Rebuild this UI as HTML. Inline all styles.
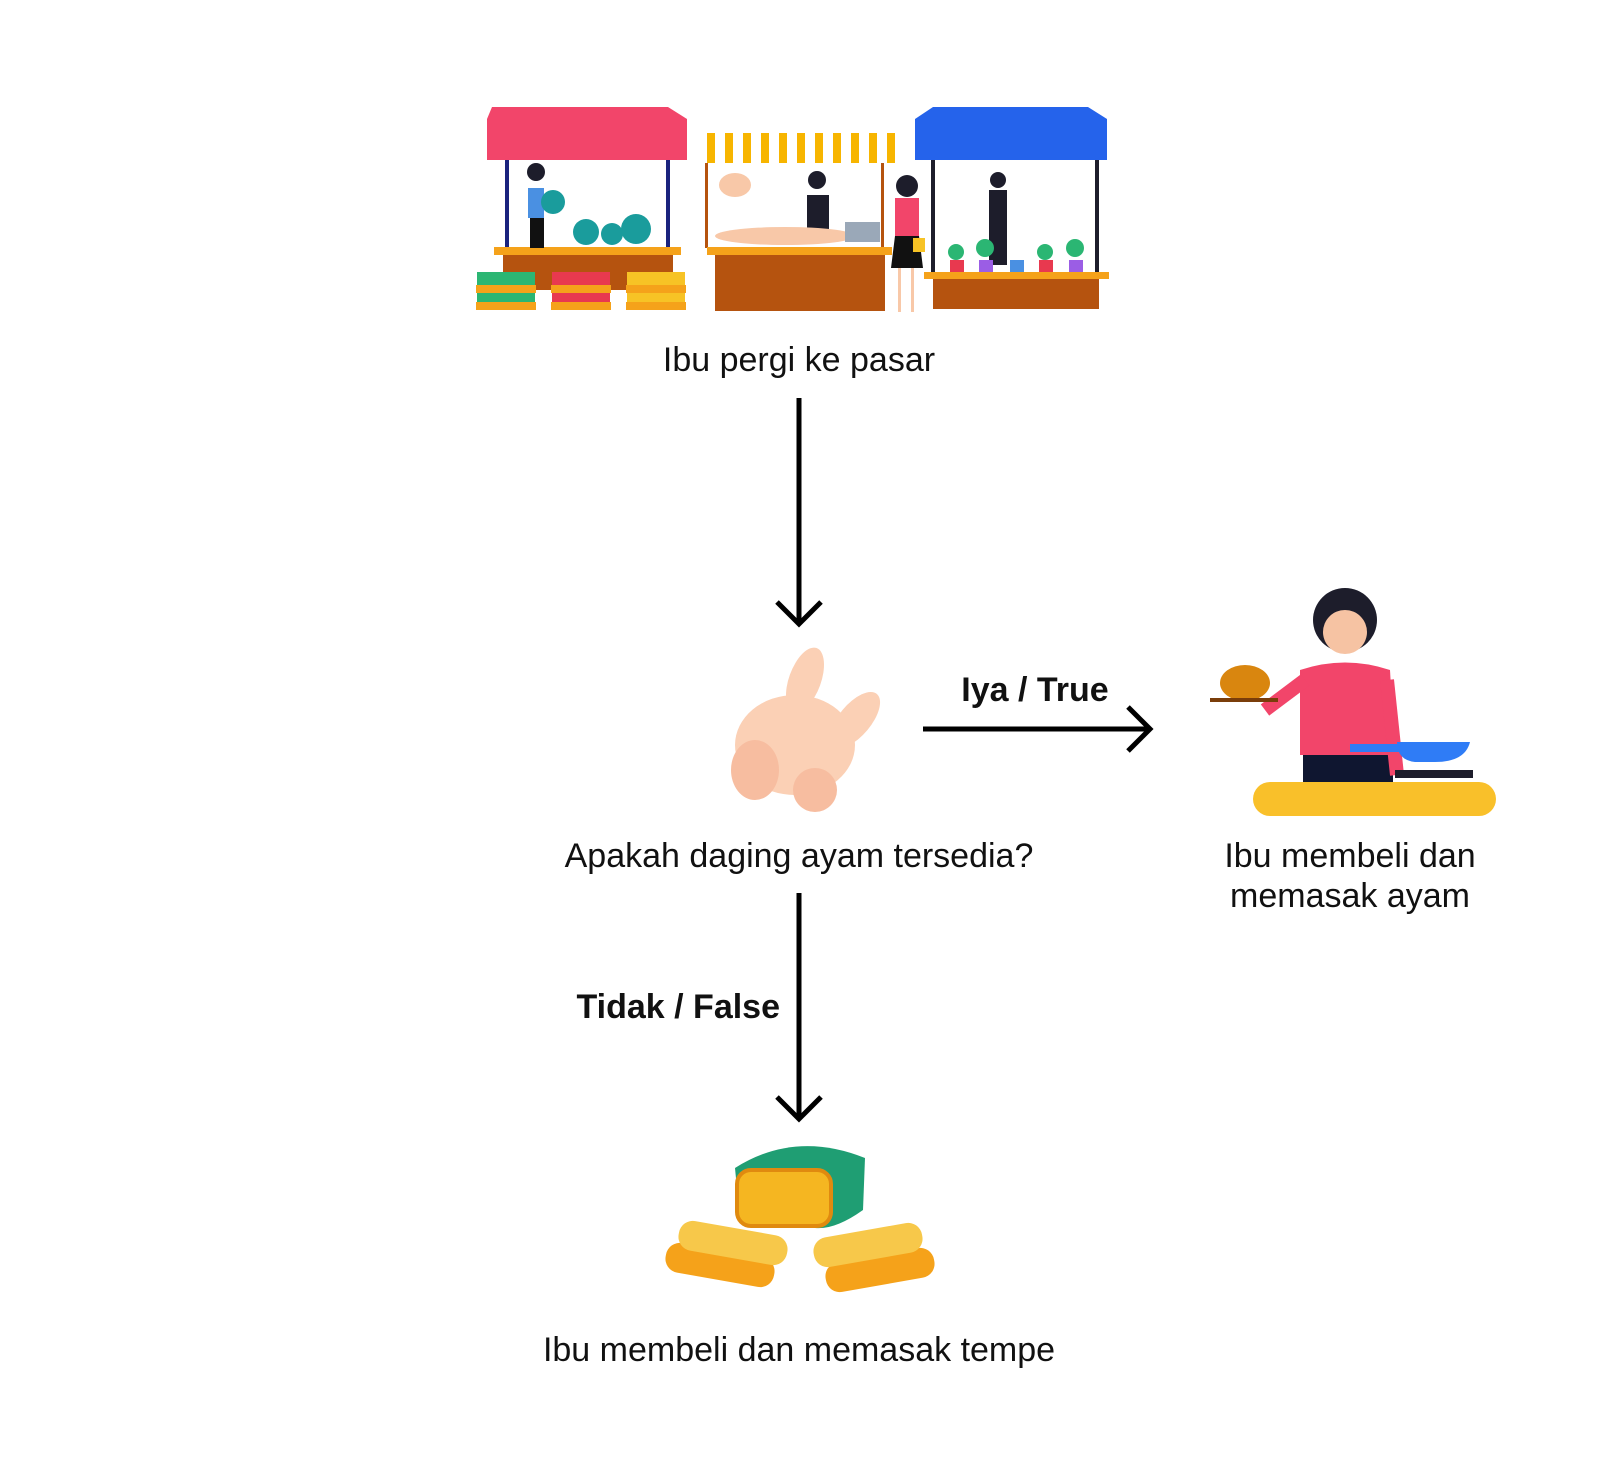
<!DOCTYPE html>
<html><head><meta charset="utf-8"><style>
html,body{margin:0;padding:0;background:#fff;}
#c{position:relative;width:1600px;height:1461px;overflow:hidden;font-family:"Liberation Sans",sans-serif;color:#111;}
.t{position:absolute;font-size:34px;text-align:center;white-space:nowrap;}
.b{font-weight:bold;}
svg{position:absolute;left:0;top:0;}
</style></head><body>
<div id="c">
<svg width="1600" height="1461">
<g transform="translate(-5,0)">
<g>
 <polygon points="497,107 673,107 692,119 692,160 492,160 492,119" fill="#f2456a"/>
 <rect x="510" y="160" width="4" height="90" fill="#1a237e"/>
 <rect x="671" y="160" width="4" height="90" fill="#1a237e"/>
 <rect x="499" y="247" width="187" height="8" fill="#f5a21a"/>
 <rect x="508" y="255" width="170" height="35" fill="#b5530f"/>
 <rect x="533" y="188" width="16" height="30" fill="#4a90e2"/>
 <circle cx="541" cy="172" r="9" fill="#1d1d2b"/>
 <rect x="535" y="218" width="14" height="30" fill="#111"/>
 <circle cx="558" cy="202" r="12" fill="#1a9c9c"/>
 <circle cx="591" cy="232" r="13" fill="#1a9c9c"/>
 <circle cx="617" cy="234" r="11" fill="#1a9c9c"/>
 <circle cx="641" cy="229" r="15" fill="#1a9c9c"/>
 <rect x="482" y="272" width="58" height="33" fill="#2bb673"/>
 <rect x="557" y="272" width="58" height="33" fill="#e8394f"/>
 <rect x="632" y="272" width="58" height="33" fill="#f7c325"/>
 <rect x="481" y="285" width="60" height="8" fill="#f5a21a"/>
 <rect x="556" y="285" width="60" height="8" fill="#f5a21a"/>
 <rect x="631" y="285" width="60" height="8" fill="#f5a21a"/>
 <rect x="481" y="302" width="60" height="8" fill="#f5a21a"/>
 <rect x="556" y="302" width="60" height="8" fill="#f5a21a"/>
 <rect x="631" y="302" width="60" height="8" fill="#f5a21a"/>
 <g fill="#f7b500">
  <rect x="712" y="133" width="8" height="30"/><rect x="730" y="133" width="8" height="30"/><rect x="748" y="133" width="8" height="30"/><rect x="766" y="133" width="8" height="30"/><rect x="784" y="133" width="8" height="30"/><rect x="802" y="133" width="8" height="30"/><rect x="820" y="133" width="8" height="30"/><rect x="838" y="133" width="8" height="30"/><rect x="856" y="133" width="8" height="30"/><rect x="874" y="133" width="8" height="30"/><rect x="892" y="133" width="8" height="30"/>
 </g>
 <rect x="710" y="163" width="3" height="85" fill="#b5530f"/>
 <rect x="886" y="163" width="3" height="85" fill="#b5530f"/>
 <ellipse cx="740" cy="185" rx="16" ry="12" fill="#f8c8a8"/>
 <rect x="812" y="195" width="22" height="45" fill="#1d1d2b"/>
 <circle cx="822" cy="180" r="9" fill="#1d1d2b"/>
 <ellipse cx="790" cy="236" rx="70" ry="9" fill="#f8c8a8"/>
 <rect x="850" y="222" width="35" height="20" fill="#9aa8b8"/>
 <rect x="712" y="247" width="185" height="8" fill="#f5a21a"/>
 <rect x="720" y="255" width="170" height="56" fill="#b5530f"/>
 <circle cx="912" cy="186" r="11" fill="#1d1d2b"/>
 <rect x="900" y="198" width="24" height="38" fill="#f2456a"/>
 <polygon points="900,236 924,236 928,268 896,268" fill="#111"/>
 <rect x="903" y="268" width="3" height="44" fill="#f8c8a8"/><rect x="916" y="268" width="3" height="44" fill="#f8c8a8"/>
 <rect x="918" y="238" width="12" height="14" fill="#f7c325"/>
 <polygon points="938,107 1093,107 1112,119 1112,160 920,160 920,119" fill="#2563eb"/>
 <rect x="936" y="160" width="4" height="115" fill="#1d1d2b"/>
 <rect x="1100" y="160" width="4" height="115" fill="#1d1d2b"/>
 <circle cx="1003" cy="180" r="8" fill="#1d1d2b"/>
 <rect x="994" y="190" width="18" height="75" fill="#1d1d2b"/>
 <g fill="#2bb673"><circle cx="961" cy="252" r="8"/><circle cx="990" cy="248" r="9"/><circle cx="1050" cy="252" r="8"/><circle cx="1080" cy="248" r="9"/></g>
 <rect x="955" y="260" width="14" height="12" fill="#e8394f"/><rect x="984" y="260" width="14" height="12" fill="#9b5de5"/><rect x="1015" y="260" width="14" height="12" fill="#4a90e2"/><rect x="1044" y="260" width="14" height="12" fill="#e8394f"/><rect x="1074" y="260" width="14" height="12" fill="#9b5de5"/>
 <rect x="929" y="272" width="185" height="7" fill="#f5a21a"/>
 <rect x="938" y="279" width="166" height="30" fill="#b5530f"/>
</g>
<g stroke="#000" stroke-width="5" fill="none">
 <line x1="804" y1="398" x2="804" y2="623"/>
 <polyline points="782,602 804,624 826,602"/>
 <line x1="928" y1="729" x2="1155" y2="729"/>
 <polyline points="1133,707 1155,729 1133,751"/>
 <line x1="804" y1="893" x2="804" y2="1119"/>
 <polyline points="782,1097 804,1119 826,1097"/>
</g>
<g fill="#fbd0b5">
 <ellipse cx="800" cy="745" rx="60" ry="50"/>
 <ellipse cx="810" cy="680" rx="16" ry="34" transform="rotate(20 810 680)"/>
 <ellipse cx="860" cy="720" rx="16" ry="34" transform="rotate(40 860 720)"/>
 <ellipse cx="760" cy="770" rx="24" ry="30" fill="#f7bda0"/>
 <ellipse cx="820" cy="790" rx="22" ry="22" fill="#f7bda0"/>
</g>
<g>
 <circle cx="1350" cy="620" r="32" fill="#1d1d2b"/>
 <circle cx="1350" cy="632" r="22" fill="#f6c3a3"/>
 <path d="M1305,670 Q1350,655 1395,670 L1400,755 L1305,755 Z" fill="#f2456a"/>
 <rect x="1308" y="755" width="90" height="30" fill="#0f1630"/>
 <line x1="1310" y1="680" x2="1270" y2="710" stroke="#f2456a" stroke-width="14"/>
 <line x1="1392" y1="680" x2="1402" y2="775" stroke="#f2456a" stroke-width="14"/>
 <ellipse cx="1250" cy="683" rx="25" ry="18" fill="#d9860f"/>
 <rect x="1215" y="698" width="68" height="4" fill="#7a3d0a"/>
 <path d="M1402,742 L1475,742 Q1470,762 1440,762 L1420,762 Q1402,760 1402,742 Z" fill="#2f7cf6"/>
 <rect x="1355" y="744" width="50" height="8" fill="#2f7cf6"/>
 <rect x="1400" y="770" width="78" height="8" fill="#1d1d2b"/>
 <rect x="1258" y="782" width="243" height="34" rx="17" fill="#f9c02a"/>
</g>
<g>
 <path d="M740,1168 Q800,1130 870,1158 L868,1210 Q840,1230 820,1228 L745,1220 Z" fill="#1f9e73"/>
 <rect x="742" y="1170" width="94" height="56" rx="14" fill="#f5b621" stroke="#e08a0f" stroke-width="4"/>
 <rect x="670" y="1250" width="110" height="30" rx="14" fill="#f5a21a" transform="rotate(10 725 1265)"/>
 <rect x="683" y="1228" width="110" height="30" rx="14" fill="#f7c84a" transform="rotate(10 738 1243)"/>
 <rect x="830" y="1255" width="110" height="30" rx="14" fill="#f5a21a" transform="rotate(-10 885 1270)"/>
 <rect x="818" y="1230" width="110" height="30" rx="14" fill="#f7c84a" transform="rotate(-10 873 1245)"/>
</g>
</g>
</svg>
<div class="t" style="left:499px;top:341px;width:600px;">Ibu pergi ke pasar</div>
<div class="t b" style="left:935px;top:671px;width:200px;">Iya / True</div>
<div class="t" style="left:449px;top:837px;width:700px;">Apakah daging ayam tersedia?</div>
<div class="t" style="left:1150px;top:836px;width:400px;line-height:40px;">Ibu membeli dan<br>memasak ayam</div>
<div class="t b" style="left:500px;top:988px;width:280px;text-align:right;">Tidak / False</div>
<div class="t" style="left:399px;top:1331px;width:800px;">Ibu membeli dan memasak tempe</div>
</div>
</body></html>
